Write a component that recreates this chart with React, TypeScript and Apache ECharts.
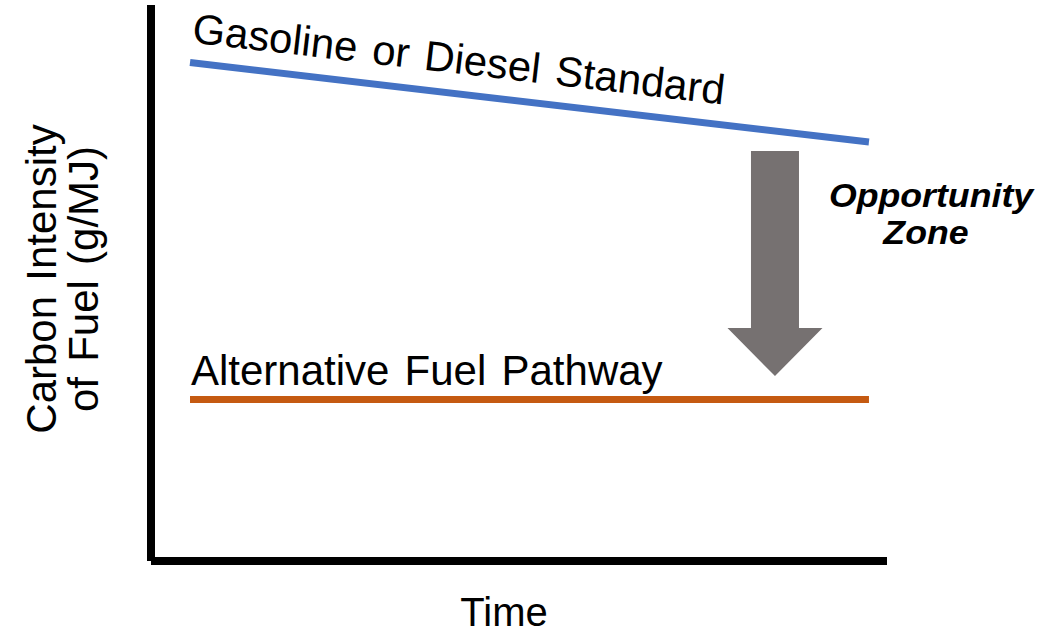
import React, { useEffect, useRef } from "react";
import * as echarts from "echarts";

// Time positions (0-100 scale) of line start/end
const timeSpan = [5.3, 97.55];
// Carbon intensity (0-100 scale)
const gasolineStandard = [89.66, 75.36];
const alternativePathway = [29.05, 29.05];
// Opportunity arrow: [time, from intensity, to intensity]
const opportunityArrow = [84.78, 73.74, 33.27];

const WS = " \u200A"; // slightly wider word spacing, as in the reference
const labels = {
  gasoline: ["Gasoline", "or", "Diesel", "Standard"].join(WS),
  alternative: ["Alternative", "Fuel", "Pathway"].join(WS),
  opportunity1: "Opportunity",
  opportunity2: "Zone",
  xTitle: "Time",
  yTitle: ["Carbon", "Intensity"].join(WS) + "\n" + ["of", "Fuel", "(g/MJ)"].join(WS),
};

const SANS = '"Liberation Sans", Arial, sans-serif';

export default function App() {
  const ref = useRef<HTMLDivElement>(null);
  useEffect(() => {
    if (!ref.current) return;
    const chart = echarts.init(ref.current, null, { renderer: "svg" });
    const axisLine = { show: true, lineStyle: { color: "#000", width: 8, cap: "butt" } };
    const txt = (text: string, font: string, align: string, extra: any = {}) => ({
      text, font, fill: "#000", textAlign: align, textVerticalAlign: "middle",
      align, verticalAlign: "middle", ...extra,
    });
    chart.setOption({
      animation: false,
      backgroundColor: "#fff",
      grid: { left: 151, right: 176, top: 5, bottom: 73 },
      xAxis: {
        type: "value", min: 0, max: 100,
        axisLine, axisTick: { show: false }, axisLabel: { show: false }, splitLine: { show: false },
      },
      yAxis: {
        type: "value", min: 0, max: 100,
        axisLine, axisTick: { show: false }, axisLabel: { show: false }, splitLine: { show: false },
      },
      series: [
        {
          type: "line",
          name: "Gasoline or Diesel Standard",
          data: timeSpan.map((t, i) => [t, gasolineStandard[i]]),
          showSymbol: false,
          lineStyle: { color: "#4472C4", width: 7, cap: "butt" },
        },
        {
          type: "line",
          name: "Alternative Fuel Pathway",
          data: timeSpan.map((t, i) => [t, alternativePathway[i]]),
          showSymbol: false,
          lineStyle: { color: "#C55A11", width: 7, cap: "butt" },
        },
        {
          type: "custom",
          name: "Opportunity",
          data: [opportunityArrow],
          encode: { x: 0, y: [1, 2] },
          renderItem: (params: any, api: any) => {
            const top = api.coord([api.value(0), api.value(1)]);
            const tip = api.coord([api.value(0), api.value(2)]);
            const cx = top[0];
            const shaftHalf = 24;
            const headHalf = 47.5;
            const headLen = 48;
            const headBase = tip[1] - headLen;
            return {
              type: "polygon",
              shape: {
                points: [
                  [cx - shaftHalf, top[1]],
                  [cx + shaftHalf, top[1]],
                  [cx + shaftHalf, headBase],
                  [cx + headHalf, headBase],
                  [cx, tip[1]],
                  [cx - headHalf, headBase],
                  [cx - shaftHalf, headBase],
                ],
              },
              style: { fill: "#767171" },
            };
          },
        },
      ],
      graphic: [
        { type: "text", x: 193, y: 28, rotation: -0.1159, style: txt(labels.gasoline, `42px ${SANS}`, "left") },
        { type: "text", x: 191, y: 370, style: txt(labels.alternative, `42px ${SANS}`, "left") },
        { type: "text", x: 931, y: 195, scaleX: 1.05, style: txt(labels.opportunity1, `italic bold 34px ${SANS}`, "center") },
        { type: "text", x: 926, y: 232, scaleX: 1.05, style: txt(labels.opportunity2, `italic bold 34px ${SANS}`, "center") },
        { type: "text", x: 504, y: 612, style: txt(labels.xTitle, `40px ${SANS}`, "center") },
        {
          type: "text", x: 62, y: 279, rotation: Math.PI / 2,
          style: txt(labels.yTitle, `42px ${SANS}`, "center", { lineHeight: 42 }),
        },
      ],
    });
    return () => chart.dispose();
  }, []);
  return (
    <div
      ref={ref}
      style={{ position: "absolute", left: 0, top: 0, width: 1063, height: 634 }}
    />
  );
}
